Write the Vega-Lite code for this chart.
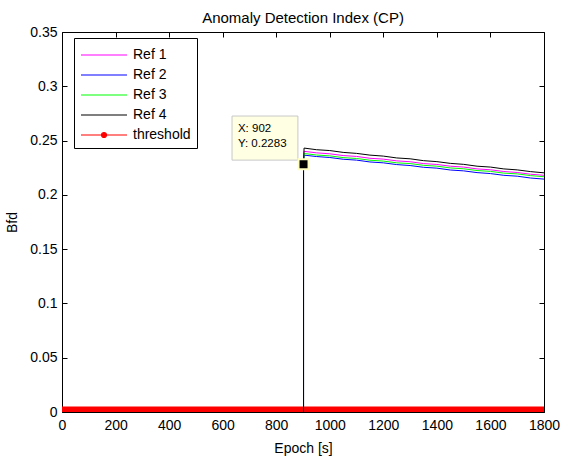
{
  "$schema": "https://vega.github.io/schema/vega-lite/v6.json",
  "width": 482,
  "height": 380,
  "autosize": {"type": "none"},
  "padding": {"left": 62, "top": 32, "right": 19, "bottom": 47},
  "background": "white",
  "config": {
    "view": {"stroke": "black", "strokeWidth": 1},
    "font": "Liberation Sans",
    "axis": {
      "grid": false,
      "domain": false,
      "tickColor": "black",
      "tickSize": -5,
      "labelColor": "black",
      "labelFontSize": 14,
      "labelFont": "Liberation Sans",
      "titleFont": "Liberation Sans",
      "titleFontSize": 14,
      "titleFontWeight": "normal",
      "titleColor": "black"
    }
  },
  "title": {
    "text": "Anomaly Detection Index (CP)",
    "font": "Liberation Sans",
    "fontSize": 15,
    "fontWeight": "normal",
    "color": "black",
    "offset": -1
  },
  "datasets": {
    "refs": [
      {"series": "Ref 1", "epoch": 902, "bfd": 0},
      {"series": "Ref 1", "epoch": 902, "bfd": 0.2283},
      {"series": "Ref 1", "epoch": 904, "bfd": 0.2401},
      {"series": "Ref 1", "epoch": 950, "bfd": 0.2387},
      {"series": "Ref 1", "epoch": 1000, "bfd": 0.2378},
      {"series": "Ref 1", "epoch": 1050, "bfd": 0.2362},
      {"series": "Ref 1", "epoch": 1100, "bfd": 0.2354},
      {"series": "Ref 1", "epoch": 1150, "bfd": 0.2337},
      {"series": "Ref 1", "epoch": 1200, "bfd": 0.2329},
      {"series": "Ref 1", "epoch": 1250, "bfd": 0.2313},
      {"series": "Ref 1", "epoch": 1300, "bfd": 0.2305},
      {"series": "Ref 1", "epoch": 1350, "bfd": 0.2288},
      {"series": "Ref 1", "epoch": 1400, "bfd": 0.2280},
      {"series": "Ref 1", "epoch": 1450, "bfd": 0.2264},
      {"series": "Ref 1", "epoch": 1500, "bfd": 0.2256},
      {"series": "Ref 1", "epoch": 1550, "bfd": 0.2239},
      {"series": "Ref 1", "epoch": 1600, "bfd": 0.2231},
      {"series": "Ref 1", "epoch": 1650, "bfd": 0.2215},
      {"series": "Ref 1", "epoch": 1700, "bfd": 0.2206},
      {"series": "Ref 1", "epoch": 1750, "bfd": 0.2190},
      {"series": "Ref 1", "epoch": 1800, "bfd": 0.2180},
      {"series": "Ref 2", "epoch": 902, "bfd": 0},
      {"series": "Ref 2", "epoch": 902, "bfd": 0.2283},
      {"series": "Ref 2", "epoch": 904, "bfd": 0.2366},
      {"series": "Ref 2", "epoch": 950, "bfd": 0.2353},
      {"series": "Ref 2", "epoch": 1000, "bfd": 0.2344},
      {"series": "Ref 2", "epoch": 1050, "bfd": 0.2328},
      {"series": "Ref 2", "epoch": 1100, "bfd": 0.2320},
      {"series": "Ref 2", "epoch": 1150, "bfd": 0.2303},
      {"series": "Ref 2", "epoch": 1200, "bfd": 0.2295},
      {"series": "Ref 2", "epoch": 1250, "bfd": 0.2279},
      {"series": "Ref 2", "epoch": 1300, "bfd": 0.2270},
      {"series": "Ref 2", "epoch": 1350, "bfd": 0.2254},
      {"series": "Ref 2", "epoch": 1400, "bfd": 0.2246},
      {"series": "Ref 2", "epoch": 1450, "bfd": 0.2229},
      {"series": "Ref 2", "epoch": 1500, "bfd": 0.2221},
      {"series": "Ref 2", "epoch": 1550, "bfd": 0.2205},
      {"series": "Ref 2", "epoch": 1600, "bfd": 0.2196},
      {"series": "Ref 2", "epoch": 1650, "bfd": 0.2180},
      {"series": "Ref 2", "epoch": 1700, "bfd": 0.2172},
      {"series": "Ref 2", "epoch": 1750, "bfd": 0.2155},
      {"series": "Ref 2", "epoch": 1800, "bfd": 0.2145},
      {"series": "Ref 3", "epoch": 902, "bfd": 0},
      {"series": "Ref 3", "epoch": 902, "bfd": 0.2283},
      {"series": "Ref 3", "epoch": 904, "bfd": 0.2381},
      {"series": "Ref 3", "epoch": 950, "bfd": 0.2367},
      {"series": "Ref 3", "epoch": 1000, "bfd": 0.2359},
      {"series": "Ref 3", "epoch": 1050, "bfd": 0.2343},
      {"series": "Ref 3", "epoch": 1100, "bfd": 0.2335},
      {"series": "Ref 3", "epoch": 1150, "bfd": 0.2319},
      {"series": "Ref 3", "epoch": 1200, "bfd": 0.2311},
      {"series": "Ref 3", "epoch": 1250, "bfd": 0.2295},
      {"series": "Ref 3", "epoch": 1300, "bfd": 0.2288},
      {"series": "Ref 3", "epoch": 1350, "bfd": 0.2272},
      {"series": "Ref 3", "epoch": 1400, "bfd": 0.2264},
      {"series": "Ref 3", "epoch": 1450, "bfd": 0.2248},
      {"series": "Ref 3", "epoch": 1500, "bfd": 0.2240},
      {"series": "Ref 3", "epoch": 1550, "bfd": 0.2224},
      {"series": "Ref 3", "epoch": 1600, "bfd": 0.2216},
      {"series": "Ref 3", "epoch": 1650, "bfd": 0.2200},
      {"series": "Ref 3", "epoch": 1700, "bfd": 0.2193},
      {"series": "Ref 3", "epoch": 1750, "bfd": 0.2177},
      {"series": "Ref 3", "epoch": 1800, "bfd": 0.2167},
      {"series": "Ref 4", "epoch": 902, "bfd": 0},
      {"series": "Ref 4", "epoch": 902, "bfd": 0.2283},
      {"series": "Ref 4", "epoch": 904, "bfd": 0.2431},
      {"series": "Ref 4", "epoch": 950, "bfd": 0.2416},
      {"series": "Ref 4", "epoch": 1000, "bfd": 0.2408},
      {"series": "Ref 4", "epoch": 1050, "bfd": 0.2391},
      {"series": "Ref 4", "epoch": 1100, "bfd": 0.2382},
      {"series": "Ref 4", "epoch": 1150, "bfd": 0.2366},
      {"series": "Ref 4", "epoch": 1200, "bfd": 0.2357},
      {"series": "Ref 4", "epoch": 1250, "bfd": 0.2340},
      {"series": "Ref 4", "epoch": 1300, "bfd": 0.2332},
      {"series": "Ref 4", "epoch": 1350, "bfd": 0.2315},
      {"series": "Ref 4", "epoch": 1400, "bfd": 0.2306},
      {"series": "Ref 4", "epoch": 1450, "bfd": 0.2290},
      {"series": "Ref 4", "epoch": 1500, "bfd": 0.2281},
      {"series": "Ref 4", "epoch": 1550, "bfd": 0.2264},
      {"series": "Ref 4", "epoch": 1600, "bfd": 0.2256},
      {"series": "Ref 4", "epoch": 1650, "bfd": 0.2239},
      {"series": "Ref 4", "epoch": 1700, "bfd": 0.2230},
      {"series": "Ref 4", "epoch": 1750, "bfd": 0.2214},
      {"series": "Ref 4", "epoch": 1800, "bfd": 0.2203}
    ],
    "threshold": [
      {"series": "threshold", "epoch": 0, "bfd": 0.0025},
      {"series": "threshold", "epoch": 1800, "bfd": 0.0025}
    ],
    "tip": [
      {"epoch": 902, "bfd": 0.2283, "boxLeft": 635, "boxRight": 881, "boxTop": 0.2726, "boxBottom": 0.2320, "textX": 657, "line1Y": 0.2606, "line2Y": 0.2468, "line1": "X: 902", "line2": "Y: 0.2283"}
    ]
  },
  "layer": [
    {
      "data": {"name": "threshold"},
      "mark": {"type": "line", "strokeWidth": 5.5, "clip": false},
      "encoding": {
        "x": {
          "field": "epoch", "type": "quantitative",
          "scale": {"domain": [0, 1800], "nice": false, "zero": false},
          "axis": {"orient": "bottom", "values": [0, 200, 400, 600, 800, 1000, 1200, 1400, 1600, 1800], "format": "d", "title": "Epoch [s]", "labelPadding": 11, "titlePadding": 9, "labelFlush": false}
        },
        "y": {
          "field": "bfd", "type": "quantitative",
          "scale": {"domain": [0, 0.35], "nice": false, "zero": false},
          "axis": {"orient": "left", "values": [0, 0.05, 0.1, 0.15, 0.2, 0.25, 0.3, 0.35], "format": ".2~f", "title": "Bfd", "labelPadding": 10, "titlePadding": 10, "labelFlush": false}
        },
        "color": {
          "field": "series", "type": "nominal",
          "scale": {"domain": ["Ref 1", "Ref 2", "Ref 3", "Ref 4", "threshold"], "range": ["#ff00ff", "#0000ff", "#00ff00", "#000000", "#ff0000"]},
          "legend": {
            "title": null,
            "orient": "none",
            "legendX": 12,
            "legendY": 6,
            "symbolType": "M-2.3,0H2.3",
            "symbolSize": 400,
            "symbolOffset": 13,
            "symbolStrokeWidth": 1.2,
            "symbolOpacity": 1,
            "labelFontSize": 14,
            "labelFont": "Liberation Sans",
            "labelColor": "black",
            "labelOffset": 18,
            "rowPadding": 2,
            "padding": 6,
            "strokeColor": "black",
            "fillColor": "white",
            "cornerRadius": 0,
            "encode": {
              "symbols": {
                "update": {
                  "shape": {"signal": "datum.value === 'threshold' ? 'M-2.3,0H2.3M-0.25,0A0.25,0.25 0 1,0 0.25,0A0.25,0.25 0 1,0 -0.25,0Z' : 'M-2.3,0H2.3'"},
                  "fill": {"signal": "datum.value === 'threshold' ? '#ff0000' : 'transparent'"},
                  "fillOpacity": {"value": 1}
                }
              }
            }
          }
        }
      }
    },
    {
      "data": {"name": "refs"},
      "mark": {"type": "line", "strokeWidth": 1},
      "encoding": {
        "x": {"field": "epoch", "type": "quantitative", "axis": null},
        "y": {"field": "bfd", "type": "quantitative", "axis": null},
        "color": {"field": "series", "type": "nominal"},
        "order": {"field": "epoch", "type": "quantitative"}
      }
    },
    {
      "data": {"name": "tip"},
      "mark": {"type": "rect", "fill": "#ffffe3", "stroke": "#c8c8c8", "strokeWidth": 1},
      "encoding": {
        "x": {"field": "boxLeft", "type": "quantitative", "axis": null},
        "x2": {"field": "boxRight"},
        "y": {"field": "boxTop", "type": "quantitative", "axis": null},
        "y2": {"field": "boxBottom"}
      }
    },
    {
      "data": {"name": "tip"},
      "mark": {"type": "text", "align": "left", "baseline": "middle", "fontSize": 11.5, "font": "Liberation Sans", "color": "black"},
      "encoding": {
        "x": {"field": "textX", "type": "quantitative", "axis": null},
        "y": {"field": "line1Y", "type": "quantitative", "axis": null},
        "text": {"field": "line1"}
      }
    },
    {
      "data": {"name": "tip"},
      "mark": {"type": "text", "align": "left", "baseline": "middle", "fontSize": 11.5, "font": "Liberation Sans", "color": "black"},
      "encoding": {
        "x": {"field": "textX", "type": "quantitative", "axis": null},
        "y": {"field": "line2Y", "type": "quantitative", "axis": null},
        "text": {"field": "line2"}
      }
    },
    {
      "data": {"name": "tip"},
      "mark": {"type": "point", "shape": "square", "filled": true, "fill": "black", "size": 100, "stroke": "#ffffc0", "strokeWidth": 2, "opacity": 1},
      "encoding": {
        "x": {"field": "epoch", "type": "quantitative", "axis": null},
        "y": {"field": "bfd", "type": "quantitative", "axis": null}
      }
    },
    {
      "data": {"name": "threshold"},
      "mark": {"type": "line", "opacity": 0},
      "encoding": {
        "x": {"field": "epoch", "type": "quantitative", "axis": {"orient": "top", "values": [0, 200, 400, 600, 800, 1000, 1200, 1400, 1600, 1800], "labels": false, "title": null}},
        "y": {"field": "bfd", "type": "quantitative", "axis": {"orient": "right", "values": [0, 0.05, 0.1, 0.15, 0.2, 0.25, 0.3, 0.35], "labels": false, "title": null}}
      }
    }
  ],
  "resolve": {"axis": {"x": "independent", "y": "independent"}}
}
